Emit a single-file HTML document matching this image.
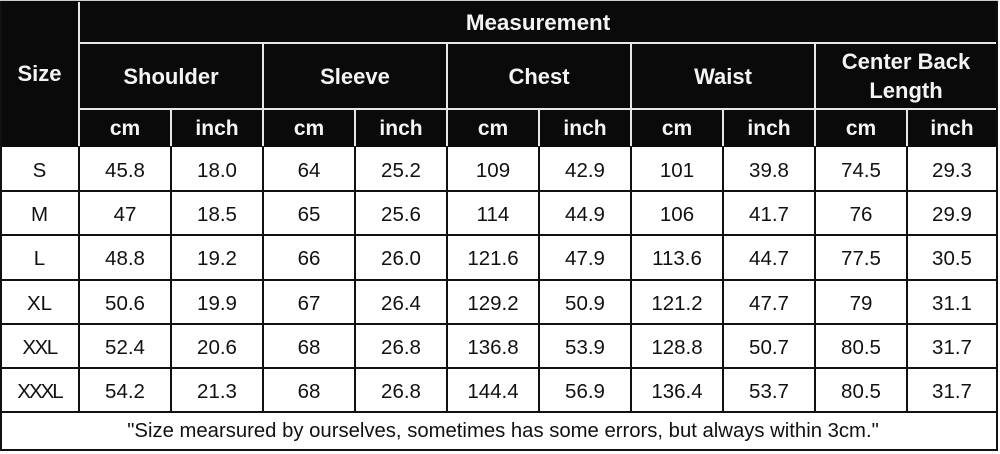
<!DOCTYPE html>
<html><head><meta charset="utf-8"><style>
html,body{margin:0;padding:0;background:#fff;width:1000px;height:454px;overflow:hidden;}
#t{position:absolute;left:0;top:0;width:1000px;height:454px;font-family:"Liberation Sans",Arial,sans-serif;}
.c{position:absolute;display:flex;align-items:center;justify-content:center;text-align:center;}
.h{color:#f4f4f4;font-weight:bold;}
.d{color:#111;font-size:20.5px;}
.l{position:absolute;}
.w{background:#e8e8e8;}
.k{background:#111;}
</style></head><body><div id="t">
<div class="l" style="left:0;top:0;width:998px;height:147px;background:#0a0a0a"></div>
<div class="l k" style="left:0;top:0;width:2px;height:451px"></div>
<div class="l k" style="left:996px;top:0;width:2px;height:451px"></div>
<div class="l k" style="left:0;top:449px;width:998px;height:2px"></div>
<div class="l" style="left:0;top:0;width:998px;height:1px;background:#ccc"></div>
<div class="l w" style="left:78px;top:2px;width:2px;height:144px"></div>
<div class="l w" style="left:79px;top:42px;width:917px;height:2px"></div>
<div class="l w" style="left:79px;top:108px;width:917px;height:2px"></div>
<div class="l w" style="left:262px;top:43px;width:2px;height:103px"></div>
<div class="l w" style="left:446px;top:43px;width:2px;height:103px"></div>
<div class="l w" style="left:630px;top:43px;width:2px;height:103px"></div>
<div class="l w" style="left:814px;top:43px;width:2px;height:103px"></div>
<div class="l w" style="left:170px;top:109px;width:2px;height:37px"></div>
<div class="l w" style="left:354px;top:109px;width:2px;height:37px"></div>
<div class="l w" style="left:538px;top:109px;width:2px;height:37px"></div>
<div class="l w" style="left:722px;top:109px;width:2px;height:37px"></div>
<div class="l w" style="left:906px;top:109px;width:2px;height:37px"></div>
<div class="l k" style="left:78px;top:146px;width:2px;height:267px"></div>
<div class="l k" style="left:170px;top:146px;width:2px;height:267px"></div>
<div class="l k" style="left:262px;top:146px;width:2px;height:267px"></div>
<div class="l k" style="left:354px;top:146px;width:2px;height:267px"></div>
<div class="l k" style="left:446px;top:146px;width:2px;height:267px"></div>
<div class="l k" style="left:538px;top:146px;width:2px;height:267px"></div>
<div class="l k" style="left:630px;top:146px;width:2px;height:267px"></div>
<div class="l k" style="left:722px;top:146px;width:2px;height:267px"></div>
<div class="l k" style="left:814px;top:146px;width:2px;height:267px"></div>
<div class="l k" style="left:906px;top:146px;width:2px;height:267px"></div>
<div class="l k" style="left:0;top:190px;width:998px;height:2px"></div>
<div class="l k" style="left:0;top:234px;width:998px;height:2px"></div>
<div class="l k" style="left:0;top:279px;width:998px;height:2px"></div>
<div class="l k" style="left:0;top:323px;width:998px;height:2px"></div>
<div class="l k" style="left:0;top:367px;width:998px;height:2px"></div>
<div class="l k" style="left:0;top:411px;width:998px;height:2px"></div>

<div class="c h" style="left:0;top:0;width:79px;height:148px;font-size:22px">Size</div>
<div class="c h" style="left:79px;top:1px;width:918px;height:43px;font-size:22.4px">Measurement</div>
<div class="c h" style="left:79px;top:43px;width:184px;height:67px;font-size:22px">Shoulder</div>
<div class="c h" style="left:263px;top:43px;width:184px;height:67px;font-size:22px">Sleeve</div>
<div class="c h" style="left:447px;top:43px;width:184px;height:67px;font-size:22px">Chest</div>
<div class="c h" style="left:631px;top:43px;width:184px;height:67px;font-size:22px">Waist</div>
<div class="c h" style="left:815px;top:43px;width:182px;height:66px;font-size:22px;line-height:29px">Center Back<br>Length</div>

<div class="c h" style="left:79px;top:109px;width:92px;height:39px;font-size:21px">cm</div>
<div class="c h" style="left:171px;top:109px;width:92px;height:39px;font-size:21px">inch</div>
<div class="c h" style="left:263px;top:109px;width:92px;height:39px;font-size:21px">cm</div>
<div class="c h" style="left:355px;top:109px;width:92px;height:39px;font-size:21px">inch</div>
<div class="c h" style="left:447px;top:109px;width:92px;height:39px;font-size:21px">cm</div>
<div class="c h" style="left:539px;top:109px;width:92px;height:39px;font-size:21px">inch</div>
<div class="c h" style="left:631px;top:109px;width:92px;height:39px;font-size:21px">cm</div>
<div class="c h" style="left:723px;top:109px;width:92px;height:39px;font-size:21px">inch</div>
<div class="c h" style="left:815px;top:109px;width:92px;height:39px;font-size:21px">cm</div>
<div class="c h" style="left:907px;top:109px;width:90px;height:39px;font-size:21px">inch</div>

<div class="c d" style="left:0;top:148px;width:79px;height:45px">S</div>
<div class="c d" style="left:79px;top:148px;width:92px;height:45px">45.8</div>
<div class="c d" style="left:171px;top:148px;width:92px;height:45px">18.0</div>
<div class="c d" style="left:263px;top:148px;width:92px;height:45px">64</div>
<div class="c d" style="left:355px;top:148px;width:92px;height:45px">25.2</div>
<div class="c d" style="left:447px;top:148px;width:92px;height:45px">109</div>
<div class="c d" style="left:539px;top:148px;width:92px;height:45px">42.9</div>
<div class="c d" style="left:631px;top:148px;width:92px;height:45px">101</div>
<div class="c d" style="left:723px;top:148px;width:92px;height:45px">39.8</div>
<div class="c d" style="left:815px;top:148px;width:92px;height:45px">74.5</div>
<div class="c d" style="left:907px;top:148px;width:90px;height:45px">29.3</div>

<div class="c d" style="left:0;top:192px;width:79px;height:45px">M</div>
<div class="c d" style="left:79px;top:192px;width:92px;height:45px">47</div>
<div class="c d" style="left:171px;top:192px;width:92px;height:45px">18.5</div>
<div class="c d" style="left:263px;top:192px;width:92px;height:45px">65</div>
<div class="c d" style="left:355px;top:192px;width:92px;height:45px">25.6</div>
<div class="c d" style="left:447px;top:192px;width:92px;height:45px">114</div>
<div class="c d" style="left:539px;top:192px;width:92px;height:45px">44.9</div>
<div class="c d" style="left:631px;top:192px;width:92px;height:45px">106</div>
<div class="c d" style="left:723px;top:192px;width:92px;height:45px">41.7</div>
<div class="c d" style="left:815px;top:192px;width:92px;height:45px">76</div>
<div class="c d" style="left:907px;top:192px;width:90px;height:45px">29.9</div>

<div class="c d" style="left:0;top:236px;width:79px;height:46px">L</div>
<div class="c d" style="left:79px;top:236px;width:92px;height:46px">48.8</div>
<div class="c d" style="left:171px;top:236px;width:92px;height:46px">19.2</div>
<div class="c d" style="left:263px;top:236px;width:92px;height:46px">66</div>
<div class="c d" style="left:355px;top:236px;width:92px;height:46px">26.0</div>
<div class="c d" style="left:447px;top:236px;width:92px;height:46px">121.6</div>
<div class="c d" style="left:539px;top:236px;width:92px;height:46px">47.9</div>
<div class="c d" style="left:631px;top:236px;width:92px;height:46px">113.6</div>
<div class="c d" style="left:723px;top:236px;width:92px;height:46px">44.7</div>
<div class="c d" style="left:815px;top:236px;width:92px;height:46px">77.5</div>
<div class="c d" style="left:907px;top:236px;width:90px;height:46px">30.5</div>

<div class="c d" style="left:0;top:281px;width:79px;height:45px">XL</div>
<div class="c d" style="left:79px;top:281px;width:92px;height:45px">50.6</div>
<div class="c d" style="left:171px;top:281px;width:92px;height:45px">19.9</div>
<div class="c d" style="left:263px;top:281px;width:92px;height:45px">67</div>
<div class="c d" style="left:355px;top:281px;width:92px;height:45px">26.4</div>
<div class="c d" style="left:447px;top:281px;width:92px;height:45px">129.2</div>
<div class="c d" style="left:539px;top:281px;width:92px;height:45px">50.9</div>
<div class="c d" style="left:631px;top:281px;width:92px;height:45px">121.2</div>
<div class="c d" style="left:723px;top:281px;width:92px;height:45px">47.7</div>
<div class="c d" style="left:815px;top:281px;width:92px;height:45px">79</div>
<div class="c d" style="left:907px;top:281px;width:90px;height:45px">31.1</div>

<div class="c d" style="left:0;top:325px;width:79px;height:45px;letter-spacing:-1.5px">XXL</div>
<div class="c d" style="left:79px;top:325px;width:92px;height:45px">52.4</div>
<div class="c d" style="left:171px;top:325px;width:92px;height:45px">20.6</div>
<div class="c d" style="left:263px;top:325px;width:92px;height:45px">68</div>
<div class="c d" style="left:355px;top:325px;width:92px;height:45px">26.8</div>
<div class="c d" style="left:447px;top:325px;width:92px;height:45px">136.8</div>
<div class="c d" style="left:539px;top:325px;width:92px;height:45px">53.9</div>
<div class="c d" style="left:631px;top:325px;width:92px;height:45px">128.8</div>
<div class="c d" style="left:723px;top:325px;width:92px;height:45px">50.7</div>
<div class="c d" style="left:815px;top:325px;width:92px;height:45px">80.5</div>
<div class="c d" style="left:907px;top:325px;width:90px;height:45px">31.7</div>

<div class="c d" style="left:0;top:369px;width:79px;height:45px;letter-spacing:-2px">XXXL</div>
<div class="c d" style="left:79px;top:369px;width:92px;height:45px">54.2</div>
<div class="c d" style="left:171px;top:369px;width:92px;height:45px">21.3</div>
<div class="c d" style="left:263px;top:369px;width:92px;height:45px">68</div>
<div class="c d" style="left:355px;top:369px;width:92px;height:45px">26.8</div>
<div class="c d" style="left:447px;top:369px;width:92px;height:45px">144.4</div>
<div class="c d" style="left:539px;top:369px;width:92px;height:45px">56.9</div>
<div class="c d" style="left:631px;top:369px;width:92px;height:45px">136.4</div>
<div class="c d" style="left:723px;top:369px;width:92px;height:45px">53.7</div>
<div class="c d" style="left:815px;top:369px;width:92px;height:45px">80.5</div>
<div class="c d" style="left:907px;top:369px;width:90px;height:45px">31.7</div>

<div class="c d" style="left:4px;top:413px;width:998px;height:37px;font-size:20.3px">"Size mearsured by ourselves, sometimes has some errors, but always within 3cm."</div>
</div></body></html>
